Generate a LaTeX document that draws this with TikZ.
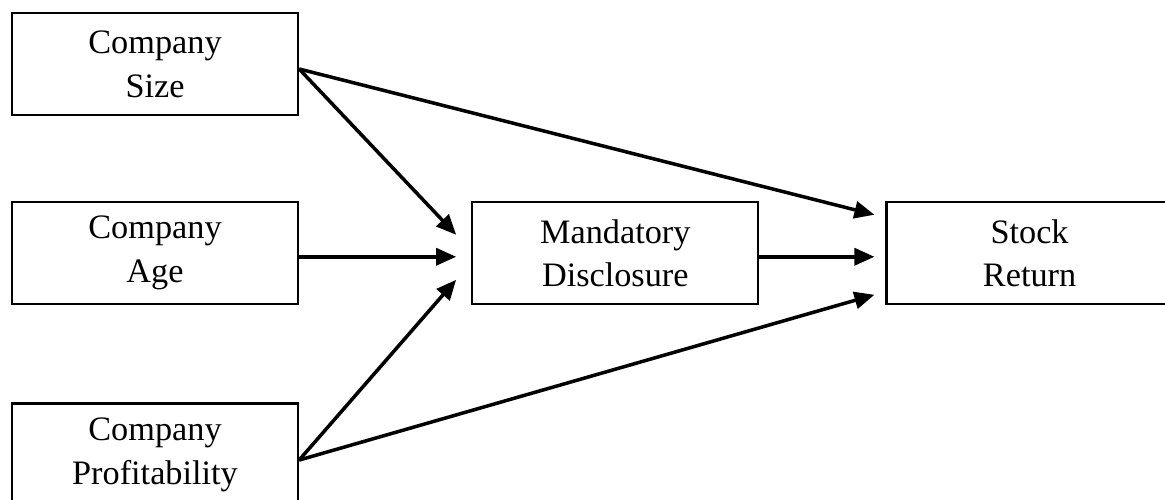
\documentclass[tikz,border=0pt]{standalone}
\usepackage{fontspec}
\setmainfont{Liberation Serif}
\usepackage{tikz}
\usetikzlibrary{positioning,arrows.meta}

\begin{document}
\begin{tikzpicture}[>={Triangle[length=0.4cm,width=0.34cm]}]
\tikzstyle{V}=[draw,line width=1.3pt,minimum width=5.72cm,minimum height=2.04cm,align=center,font=\fontsize{19.5}{25}\selectfont]
\tikzstyle{A}=[->,line width=2pt]
\useasboundingbox (0,0) rectangle (23.3,10);
\node[V] (size) at (3.1,8.72) {Company\\Size};
\node[V,below=1.7cm of size] (age) {Company\\Age};
\node[V,below=1.94cm of age] (prof) {Company\\Profitability};
\node[V,right=3.44cm of age] (disc) {Mandatory\\Disclosure};
\node[V,right=2.52cm of disc] (ret) {Stock\\Return};
% paths into disclosure
\draw[A] ([yshift=-0.1cm]size.east) -- ([xshift=-0.3cm,yshift=0.37cm]disc.west);
\draw[A] ([yshift=-0.07cm]age.east) -- ([xshift=-0.3cm,yshift=-0.07cm]disc.west);
\draw[A] ([yshift=-0.11cm]prof.east) -- ([xshift=-0.3cm,yshift=-0.53cm]disc.west);
% paths into return
\draw[A] ([yshift=-0.1cm]size.east) -- ([xshift=-0.22cm,yshift=0.77cm]ret.west);
\draw[A] ([yshift=-0.07cm]disc.east) -- ([xshift=-0.22cm,yshift=-0.07cm]ret.west);
\draw[A] ([yshift=-0.11cm]prof.east) -- ([xshift=-0.22cm,yshift=-0.83cm]ret.west);
\end{tikzpicture}
\end{document}
